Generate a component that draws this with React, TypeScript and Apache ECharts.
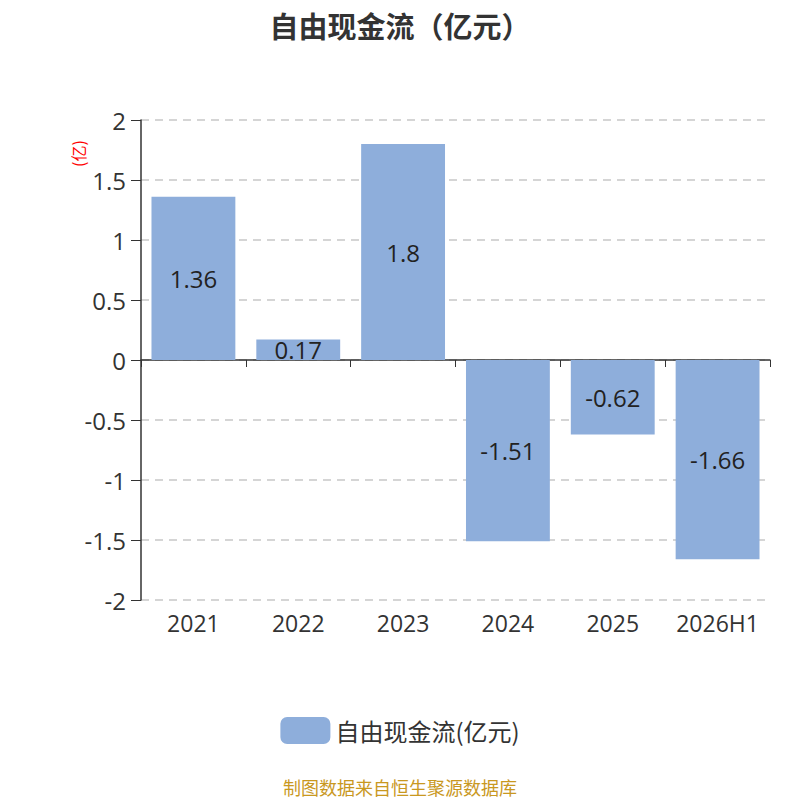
import React, { useEffect, useRef } from "react";
import * as echarts from "echarts";

const categories = ["2021", "2022", "2023", "2024", "2025", "2026H1"];
const values = [1.36, 0.17, 1.8, -1.51, -0.62, -1.66];
const seriesName = "自由现金流(亿元)";
const titleText = "自由现金流（亿元）";
const unitText = "(亿)";
const footerText = "制图数据来自恒生聚源数据库";

const FONT = "'Open Sans', 'Noto Sans CJK SC', sans-serif";
const CJK = "'Noto Sans CJK SC', 'Noto Sans', sans-serif";

export default function App() {
  const ref = useRef<HTMLDivElement>(null);
  useEffect(() => {
    const chart = echarts.init(ref.current!, null, { renderer: "svg" });
    chart.setOption({
      animation: false,
      textStyle: { fontFamily: FONT },
      title: {
        text: titleText,
        left: "center",
        top: 5,
        textStyle: { fontSize: 29, fontWeight: "bold", color: "#333", fontFamily: CJK },
      },
      legend: {
        bottom: 51,
        left: "center",
        icon: "roundRect",
        itemWidth: 50,
        itemHeight: 27,
        itemGap: 10,
        textStyle: { fontSize: 24, color: "#333", fontFamily: CJK },
        data: [seriesName],
      },
      grid: { left: 141, right: 30, top: 120, bottom: 200 },
      xAxis: [
        {
          type: "category",
          data: categories,
          axisLine: { onZero: true, lineStyle: { color: "#333", width: 1.5 } },
          axisTick: { show: true, length: 7, lineStyle: { color: "#333" } },
          axisLabel: { show: false },
        },
        {
          type: "category",
          data: categories,
          position: "bottom",
          axisLine: { show: false },
          axisTick: { show: false },
          axisLabel: {
            show: true,
            interval: 0,
            fontSize: 23,
            color: "#333",
            margin: 11,
            fontFamily: FONT,
          },
        },
      ],
      yAxis: {
        type: "value",
        min: -2,
        max: 2,
        interval: 0.5,
        axisLine: { show: true, lineStyle: { color: "#333", width: 1.5 } },
        axisTick: { show: true, length: 10, lineStyle: { color: "#333" } },
        axisLabel: { fontSize: 24, color: "#333", margin: 15, fontFamily: FONT },
        splitLine: { show: true, lineStyle: { color: "#c8c8c8", type: [8, 6], width: 1.5 } },
      },
      graphic: [
        {
          type: "text",
          x: 70,
          y: 167,
          rotation: Math.PI / 2,
          style: { text: unitText, fill: "#ff0000", fontSize: 16, fontFamily: CJK },
        },
        {
          type: "text",
          left: "center",
          top: 778,
          style: { text: footerText, fill: "#c9981f", fontSize: 18, fontFamily: CJK },
        },
      ],
      series: [
        {
          name: seriesName,
          type: "bar",
          xAxisIndex: 0,
          data: values,
          barWidth: "80%",
          itemStyle: { color: "#8eaedb" },
          label: {
            show: true,
            position: "inside",
            fontSize: 24,
            color: "#222",
            fontFamily: FONT,
          },
        },
      ],
    });
    return () => chart.dispose();
  }, []);
  return (
    <div
      ref={ref}
      style={{ position: "fixed", left: 0, top: 0, width: 800, height: 800, background: "#fff" }}
    />
  );
}
